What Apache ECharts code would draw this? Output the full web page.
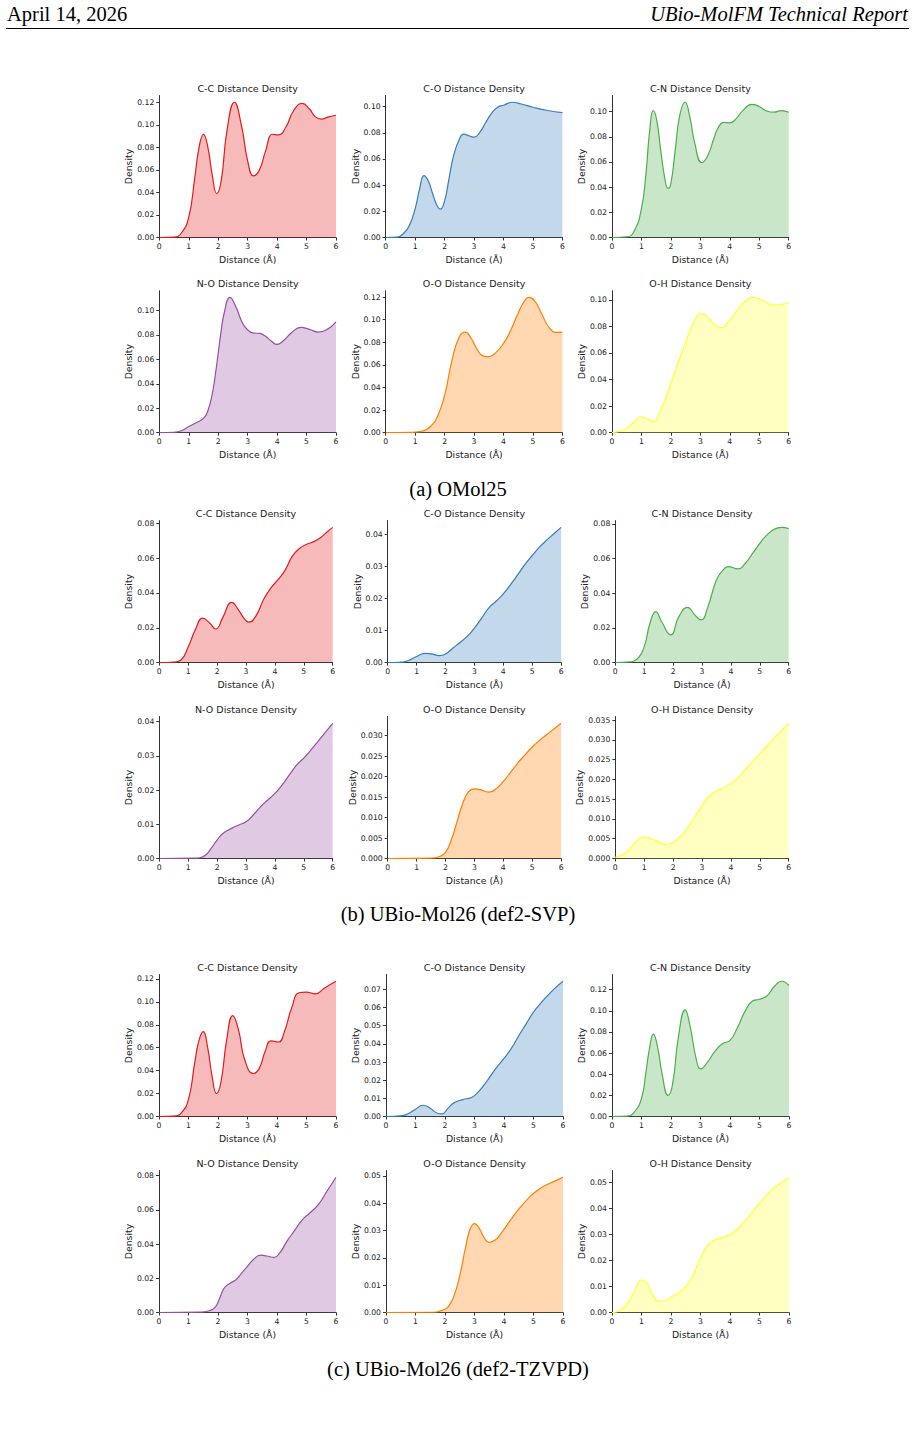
<!DOCTYPE html>
<html>
<head>
<meta charset="utf-8">
<script src="https://cdn.jsdelivr.net/npm/echarts@6/dist/echarts.min.js"></script>
<style>
  html, body { margin: 0; padding: 0; background: #fff; }
  #chart { width: 915px; height: 1434px; }
</style>
</head>
<body>
<div id="chart"></div>
<script>
// panel names and colours (2 rows x 3 cols per dataset)
const pairs = ['C-C', 'C-O', 'C-N', 'N-O', 'O-O', 'O-H'];
const colors = ['#e41a1c', '#377eb8', '#4daf4a', '#984ea3', '#ff7f00', '#ffff33'];
const xTicks = [0, 1, 2, 3, 4, 5, 6];
const captions = ['(a) OMol25', '(b) UBio-Mol26 (def2-SVP)', '(c) UBio-Mol26 (def2-TZVPD)'];

// (a) OMol25  -- [distance, density]
const omolCC = [[0,0],[0.5,0.0003],[0.75,0.004],[1.0,0.018],[1.2,0.052],[1.35,0.08],[1.5,0.0915],[1.65,0.08],[1.8,0.055],[1.95,0.039],[2.1,0.05],[2.3,0.095],[2.55,0.12],[2.8,0.098],[3.0,0.068],[3.2,0.0547],[3.4,0.06],[3.6,0.076],[3.85,0.0916],[4.05,0.091],[4.3,0.098],[4.55,0.112],[4.85,0.119],[5.1,0.114],[5.3,0.107],[5.5,0.105],[5.75,0.107],[6.0,0.1085]];
const omolCO = [[0,0],[0.4,0.0003],[0.6,0.003],[0.8,0.009],[1.0,0.022],[1.15,0.037],[1.3,0.0473],[1.45,0.043],[1.6,0.033],[1.75,0.024],[1.85,0.0216],[2.0,0.028],[2.15,0.045],[2.3,0.062],[2.5,0.075],[2.65,0.079],[2.85,0.0775],[3.0,0.0766],[3.2,0.0805],[3.4,0.088],[3.6,0.095],[3.8,0.0995],[4.0,0.101],[4.3,0.1033],[4.6,0.102],[5.0,0.0995],[5.5,0.097],[6.0,0.0954]];
const omolCN = [[0,0],[0.5,0.0005],[0.75,0.005],[1.0,0.023],[1.15,0.05],[1.28,0.085],[1.4,0.1008],[1.52,0.093],[1.65,0.07],[1.8,0.046],[1.9,0.039],[2.0,0.043],[2.15,0.07],[2.3,0.097],[2.48,0.1074],[2.65,0.095],[2.8,0.076],[3.05,0.0595],[3.25,0.065],[3.45,0.078],[3.6,0.087],[3.8,0.0915],[4.0,0.091],[4.2,0.094],[4.45,0.101],[4.75,0.1058],[5.0,0.104],[5.25,0.1005],[5.5,0.0995],[5.75,0.1008],[6.0,0.0995]];
const omolNO = [[0,0],[0.5,0.0003],[0.75,0.0016],[1.0,0.005],[1.25,0.0082],[1.5,0.0117],[1.65,0.018],[1.8,0.032],[1.9,0.047],[2.0,0.065],[2.1,0.083],[2.2,0.0975],[2.4,0.1106],[2.6,0.103],[2.8,0.091],[3.0,0.084],[3.2,0.0815],[3.4,0.0812],[3.6,0.079],[3.8,0.075],[4.0,0.0722],[4.2,0.075],[4.5,0.082],[4.8,0.0861],[5.1,0.0845],[5.4,0.0823],[5.7,0.0845],[6.0,0.0907]];
const omolOO = [[0,0],[0.8,0.0002],[1.0,0.0005],[1.25,0.0015],[1.5,0.005],[1.75,0.014],[2.0,0.033],[2.25,0.064],[2.5,0.085],[2.7,0.089],[2.9,0.0836],[3.1,0.074],[3.3,0.068],[3.45,0.0674],[3.7,0.070],[4.0,0.079],[4.25,0.091],[4.5,0.106],[4.7,0.116],[4.85,0.1197],[5.05,0.117],[5.3,0.105],[5.55,0.093],[5.8,0.0888],[6.0,0.089]];
const omolOH = [[0,0],[0.25,0.001],[0.5,0.003],[0.75,0.008],[1.0,0.012],[1.2,0.0102],[1.4,0.0083],[1.6,0.0145],[1.8,0.0246],[2.0,0.037],[2.25,0.053],[2.5,0.068],[2.75,0.082],[3.05,0.0897],[3.3,0.086],[3.5,0.081],[3.7,0.079],[4.0,0.0847],[4.3,0.0935],[4.55,0.0995],[4.8,0.1018],[5.1,0.0998],[5.5,0.096],[5.75,0.0965],[6.0,0.098]];

// (b) UBio-Mol26 def2-SVP
const svpCC = [[0,0],[0.5,0.0003],[0.75,0.0015],[1.0,0.009],[1.25,0.019],[1.5,0.0255],[1.75,0.0226],[1.95,0.0193],[2.2,0.026],[2.5,0.0346],[2.75,0.030],[2.95,0.025],[3.1,0.0232],[3.35,0.027],[3.6,0.036],[3.85,0.0427],[4.1,0.0475],[4.35,0.053],[4.6,0.061],[4.85,0.0656],[5.1,0.068],[5.35,0.0695],[5.6,0.072],[5.8,0.075],[6.0,0.0777]];
const svpCO = [[0,0],[0.4,0.0001],[0.6,0.0003],[0.8,0.001],[1.0,0.0019],[1.3,0.0029],[1.5,0.0027],[1.8,0.0022],[2.0,0.0027],[2.25,0.0045],[2.5,0.0063],[2.75,0.0082],[3.0,0.0108],[3.25,0.0139],[3.5,0.0171],[3.75,0.0192],[4.0,0.0215],[4.25,0.0244],[4.5,0.0275],[4.75,0.0307],[5.0,0.0335],[5.25,0.0361],[5.5,0.0383],[5.75,0.0403],[6.0,0.0423]];
const svpCN = [[0,0],[0.5,0.0004],[0.75,0.002],[1.0,0.0092],[1.2,0.0227],[1.4,0.0294],[1.6,0.0237],[1.92,0.016],[2.2,0.0265],[2.5,0.0319],[2.75,0.0275],[2.97,0.0246],[3.2,0.032],[3.5,0.0477],[3.75,0.0538],[3.9,0.0554],[4.25,0.054],[4.5,0.0573],[4.75,0.063],[5.0,0.0688],[5.25,0.0737],[5.5,0.0769],[5.75,0.078],[6.0,0.0773]];
const svpNO = [[0,0],[1.2,0.0001],[1.4,0.0002],[1.6,0.001],[1.8,0.003],[2.0,0.0054],[2.2,0.0073],[2.5,0.0088],[2.75,0.0098],[3.0,0.0107],[3.25,0.0127],[3.5,0.0151],[3.75,0.0171],[4.0,0.019],[4.25,0.0215],[4.5,0.0244],[4.75,0.0273],[5.0,0.0293],[5.25,0.0317],[5.5,0.0343],[5.75,0.0369],[6.0,0.0395]];
const svpOO = [[0,0],[1.5,0.0001],[1.8,0.0005],[2.0,0.0015],[2.2,0.0045],[2.4,0.009],[2.6,0.0135],[2.8,0.0163],[3.0,0.017],[3.2,0.0168],[3.5,0.0162],[3.75,0.017],[4.0,0.0188],[4.25,0.021],[4.5,0.0233],[4.75,0.0253],[5.0,0.0272],[5.25,0.0288],[5.5,0.0302],[5.75,0.0316],[6.0,0.033]];
const svpOH = [[0,0.0003],[0.25,0.001],[0.5,0.0025],[0.75,0.0045],[1.0,0.0054],[1.25,0.005],[1.5,0.0042],[1.8,0.0036],[2.0,0.0041],[2.25,0.0055],[2.5,0.0078],[2.75,0.0105],[3.0,0.0135],[3.25,0.0158],[3.5,0.0171],[3.75,0.0179],[4.0,0.019],[4.25,0.0205],[4.5,0.0225],[4.75,0.0245],[5.0,0.0265],[5.25,0.0285],[5.5,0.0305],[5.75,0.0323],[6.0,0.0342]];

// (c) UBio-Mol26 def2-TZVPD
const tzvpdCC = [[0,0],[0.5,0.0003],[0.75,0.003],[1.0,0.015],[1.2,0.045],[1.35,0.066],[1.5,0.074],[1.65,0.06],[1.8,0.035],[1.95,0.02],[2.1,0.03],[2.3,0.068],[2.5,0.088],[2.7,0.075],[2.9,0.05],[3.2,0.0375],[3.4,0.042],[3.6,0.057],[3.8,0.066],[4.05,0.065],[4.25,0.074],[4.5,0.095],[4.75,0.108],[5.0,0.1085],[5.3,0.107],[5.6,0.112],[6.0,0.118]];
const tzvpdCO = [[0,0],[0.5,0.0003],[0.75,0.0015],[1.0,0.004],[1.25,0.0062],[1.5,0.0045],[1.75,0.0018],[1.9,0.0015],[2.1,0.0045],[2.3,0.0075],[2.6,0.0093],[2.9,0.0105],[3.1,0.013],[3.4,0.019],[3.7,0.026],[4.0,0.032],[4.25,0.0375],[4.5,0.0445],[4.75,0.051],[5.0,0.0575],[5.25,0.0625],[5.5,0.067],[5.75,0.071],[6.0,0.0745]];
const tzvpdCN = [[0,0],[0.5,0.0004],[0.75,0.004],[1.0,0.017],[1.15,0.042],[1.28,0.066],[1.4,0.078],[1.55,0.065],[1.7,0.04],[1.9,0.02],[2.05,0.03],[2.25,0.075],[2.48,0.101],[2.65,0.085],[2.85,0.055],[3.0,0.045],[3.25,0.052],[3.5,0.062],[3.75,0.069],[4.0,0.072],[4.25,0.084],[4.5,0.099],[4.75,0.109],[5.0,0.111],[5.25,0.114],[5.5,0.123],[5.75,0.128],[6.0,0.124]];
const tzvpdNO = [[0,0],[1.4,0.0002],[1.7,0.001],[1.9,0.003],[2.05,0.008],[2.2,0.014],[2.4,0.017],[2.6,0.019],[2.8,0.023],[3.0,0.027],[3.2,0.031],[3.45,0.0335],[3.65,0.033],[3.9,0.0322],[4.1,0.035],[4.35,0.042],[4.6,0.048],[4.85,0.054],[5.1,0.058],[5.4,0.063],[5.7,0.071],[6.0,0.079]];
const tzvpdOO = [[0,0],[1.6,0.0001],[1.9,0.0008],[2.1,0.002],[2.3,0.006],[2.5,0.0135],[2.7,0.024],[2.85,0.0305],[3.0,0.0325],[3.15,0.031],[3.35,0.027],[3.5,0.0257],[3.7,0.0265],[3.9,0.029],[4.2,0.0335],[4.5,0.0378],[4.8,0.0415],[5.1,0.0445],[5.4,0.0465],[5.7,0.048],[6.0,0.0495]];
const tzvpdOH = [[0,0],[0.25,0.0007],[0.5,0.003],[0.75,0.008],[1.0,0.0125],[1.2,0.011],[1.4,0.0065],[1.6,0.0042],[1.8,0.0045],[2.0,0.006],[2.25,0.0075],[2.5,0.01],[2.75,0.0145],[3.0,0.021],[3.25,0.026],[3.5,0.028],[3.75,0.0288],[4.0,0.03],[4.25,0.032],[4.5,0.0352],[4.75,0.0385],[5.0,0.042],[5.25,0.0452],[5.5,0.048],[5.75,0.05],[6.0,0.052]];

// y tick labels per panel
const omolYTicks = [
  [0, 0.02, 0.04, 0.06, 0.08, 0.10, 0.12],
  [0, 0.02, 0.04, 0.06, 0.08, 0.10],
  [0, 0.02, 0.04, 0.06, 0.08, 0.10],
  [0, 0.02, 0.04, 0.06, 0.08, 0.10],
  [0, 0.02, 0.04, 0.06, 0.08, 0.10, 0.12],
  [0, 0.02, 0.04, 0.06, 0.08, 0.10]
];
const svpYTicks = [
  [0, 0.02, 0.04, 0.06, 0.08],
  [0, 0.01, 0.02, 0.03, 0.04],
  [0, 0.02, 0.04, 0.06, 0.08],
  [0, 0.01, 0.02, 0.03, 0.04],
  [0, 0.005, 0.010, 0.015, 0.020, 0.025, 0.030],
  [0, 0.005, 0.010, 0.015, 0.020, 0.025, 0.030, 0.035]
];
const tzvpdYTicks = [
  [0, 0.02, 0.04, 0.06, 0.08, 0.10, 0.12],
  [0, 0.01, 0.02, 0.03, 0.04, 0.05, 0.06, 0.07],
  [0, 0.02, 0.04, 0.06, 0.08, 0.10, 0.12],
  [0, 0.02, 0.04, 0.06, 0.08],
  [0, 0.01, 0.02, 0.03, 0.04, 0.05],
  [0, 0.01, 0.02, 0.03, 0.04, 0.05]
];

// layout of each block of 6 panels
const blocks = [
  { data: [omolCC, omolCO, omolCN, omolNO, omolOO, omolOH], ticks: omolYTicks,
    lefts: [159.3, 385.7, 612], width: 176.7, tops: [95.5, 290.7], capY: 489 },
  { data: [svpCC, svpCO, svpCN, svpNO, svpOO, svpOH], ticks: svpYTicks,
    lefts: [159.3, 387.7, 615.3], width: 173.4, tops: [520.6, 716.5], capY: 914 },
  { data: [tzvpdCC, tzvpdCO, tzvpdCN, tzvpdNO, tzvpdOO, tzvpdOH], ticks: tzvpdYTicks,
    lefts: [159, 386, 612], width: 177, tops: [974.5, 1170.5], capY: 1369 }
];
const panelH = 142;
const ink = '#222';
const spine = '#333';

const grids = [], xAxes = [], yAxes = [], series = [];
const graphics = [
  { type: 'text', x: 7, y: 14, style: { text: 'April 14, 2026', font: '20.5px "Liberation Serif"', fill: '#000', textAlign: 'left', textVerticalAlign: 'middle' } },
  { type: 'text', x: 908, y: 14, style: { text: 'UBio-MolFM Technical Report', font: 'italic 20.5px "Liberation Serif"', fill: '#000', textAlign: 'right', textVerticalAlign: 'middle' } },
  { type: 'line', shape: { x1: 6, y1: 28.5, x2: 909, y2: 28.5 }, style: { stroke: '#000', lineWidth: 1 } }
];

blocks.forEach((b, bi) => {
  graphics.push({ type: 'text', x: 458, y: b.capY,
    style: { text: captions[bi], font: '20.5px "Liberation Serif"', fill: '#000', textAlign: 'center', textVerticalAlign: 'middle' } });
  b.data.forEach((d, i) => {
    const row = Math.floor(i / 3), col = i % 3;
    const idx = grids.length;
    const left = b.lefts[col], top = b.tops[row];
    const ticks = b.ticks[i];
    const dec = ticks[1] < 0.01 ? 3 : 2;
    grids.push({ left: left, top: top, width: b.width, height: panelH });
    graphics.push({ type: 'text', x: left + b.width / 2, y: top - 7.5,
      style: { text: pairs[i] + ' Distance Density', font: '9.5px "DejaVu Sans"', fill: ink, textAlign: 'center', textVerticalAlign: 'middle' } });
    xAxes.push({
      type: 'value', gridIndex: idx, min: 0, max: 6,
      name: 'Distance (Å)', nameLocation: 'middle', nameGap: 17,
      nameTextStyle: { fontFamily: 'DejaVu Sans', fontSize: 9.3, color: ink },
      axisLine: { onZero: false, lineStyle: { color: spine, width: 1 } },
      axisTick: { length: 3, customValues: xTicks, lineStyle: { color: spine } },
      axisLabel: { customValues: xTicks, margin: 5, fontFamily: 'DejaVu Sans', fontSize: 7.7, color: ink },
      splitLine: { show: false }
    });
    yAxes.push({
      type: 'value', gridIndex: idx, min: 0, max: v => v.max * 1.05,
      name: 'Density', nameLocation: 'middle', nameGap: 26,
      nameTextStyle: { fontFamily: 'DejaVu Sans', fontSize: 9.3, color: ink },
      axisLine: { show: true, lineStyle: { color: spine, width: 1 } },
      axisTick: { show: true, length: 3, customValues: ticks, lineStyle: { color: spine } },
      axisLabel: { customValues: ticks, margin: 5, fontFamily: 'DejaVu Sans', fontSize: 7.7, color: ink,
        formatter: v => v.toFixed(dec) },
      splitLine: { show: false }
    });
    series.push({
      type: 'line', xAxisIndex: idx, yAxisIndex: idx, data: d,
      showSymbol: false, smooth: 0.5,
      lineStyle: { color: colors[i], width: 1.2 },
      itemStyle: { color: colors[i] },
      areaStyle: { color: colors[i], opacity: 0.3 },
      animation: false, silent: true
    });
  });
});

const chart = echarts.init(document.getElementById('chart'), null, { renderer: 'svg' });
chart.setOption({
  animation: false,
  grid: grids,
  xAxis: xAxes,
  yAxis: yAxes,
  series: series,
  graphic: graphics
});
</script>
</body>
</html>
